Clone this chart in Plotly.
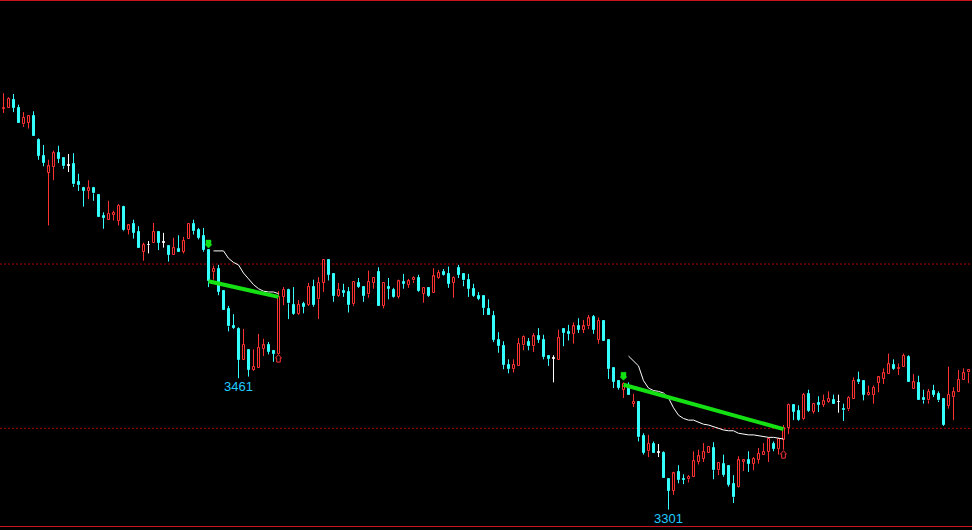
import plotly.graph_objects as go

# ---------------- data (index points, daily candles) ----------------
opens = [3789, 3790, 3800, 3790, 3770, 3772, 3780, 3751, 3731, 3711,
         3718, 3735, 3729, 3720, 3722, 3700, 3693, 3689, 3693, 3684,
         3658, 3654, 3660, 3653, 3669, 3642, 3649, 3639, 3615, 3623,
         3626, 3639, 3626, 3622, 3611, 3618, 3615, 3630, 3649, 3642,
         3634, 3617, 3590, 3594, 3567, 3545, 3525, 3521, 3483, 3495,
         3471, 3474, 3497, 3501, 3494, 3491, 3560, 3569, 3550, 3539,
         3551, 3550, 3572, 3557, 3577, 3605, 3588, 3561, 3567, 3566,
         3551, 3577, 3572, 3563, 3577, 3590, 3549, 3572, 3569, 3560,
         3578, 3575, 3580, 3583, 3564, 3571, 3565, 3583, 3590, 3588,
         3577, 3595, 3588, 3581, 3570, 3561, 3561, 3545, 3537, 3508,
         3500, 3477, 3472, 3476, 3501, 3505, 3500, 3512, 3508, 3488,
         3485, 3483, 3521, 3517, 3515, 3524, 3520, 3524, 3535, 3508,
         3531, 3508, 3473, 3458, 3447, 3451, 3430, 3432, 3391, 3372,
         3381, 3370, 3370, 3338, 3324, 3347, 3338, 3338, 3341, 3359,
         3363, 3370, 3376, 3349, 3357, 3354, 3332, 3329, 3359, 3361,
         3357, 3362, 3368, 3371, 3381, 3375, 3386, 3401, 3428, 3421,
         3411, 3442, 3420, 3431, 3429, 3432, 3435, 3432, 3424, 3423,
         3436, 3459, 3458, 3441, 3441, 3455, 3460, 3466, 3477, 3472,
         3475, 3487, 3448, 3455, 3437, 3434, 3445, 3442, 3436, 3427,
         3438, 3444, 3459, 3468]
highs = [3808, 3803, 3807, 3794, 3785, 3781, 3786, 3753, 3745, 3727,
         3738, 3744, 3729, 3734, 3735, 3710, 3694, 3702, 3694, 3685,
         3663, 3677, 3665, 3673, 3671, 3648, 3654, 3646, 3626, 3628,
         3650, 3640, 3638, 3623, 3632, 3635, 3633, 3649, 3654, 3644,
         3644, 3617, 3598, 3599, 3567, 3549, 3539, 3523, 3521, 3495,
         3496, 3515, 3509, 3505, 3495, 3567, 3572, 3570, 3572, 3556,
         3554, 3577, 3581, 3584, 3606, 3606, 3589, 3577, 3576, 3572,
         3578, 3583, 3572, 3592, 3583, 3596, 3578, 3583, 3571, 3581,
         3588, 3582, 3585, 3587, 3571, 3572, 3595, 3593, 3594, 3597,
         3585, 3599, 3588, 3588, 3576, 3566, 3561, 3557, 3543, 3517,
         3506, 3484, 3484, 3510, 3513, 3510, 3516, 3522, 3514, 3488,
         3489, 3520, 3521, 3526, 3529, 3534, 3532, 3538, 3538, 3535,
         3531, 3508, 3473, 3458, 3456, 3456, 3442, 3432, 3394, 3392,
         3384, 3381, 3372, 3338, 3347, 3355, 3344, 3343, 3372, 3374,
         3382, 3377, 3383, 3359, 3368, 3354, 3343, 3366, 3362, 3372,
         3365, 3376, 3382, 3389, 3384, 3388, 3404, 3430, 3429, 3428,
         3443, 3447, 3431, 3439, 3441, 3445, 3441, 3441, 3430, 3439,
         3462, 3469, 3458, 3452, 3452, 3463, 3473, 3491, 3484, 3479,
         3491, 3489, 3466, 3464, 3447, 3448, 3453, 3445, 3437, 3475,
         3450, 3471, 3473, 3472]
lows = [3784, 3790, 3785, 3772, 3767, 3765, 3756, 3727, 3719, 3647,
        3702, 3723, 3716, 3712, 3694, 3689, 3670, 3679, 3677, 3657,
        3643, 3654, 3653, 3647, 3640, 3636, 3631, 3619, 3604, 3613,
        3626, 3617, 3620, 3603, 3611, 3615, 3613, 3630, 3636, 3630,
        3615, 3572, 3581, 3562, 3544, 3518, 3521, 3461, 3483, 3463,
        3470, 3474, 3488, 3490, 3481, 3491, 3550, 3533, 3538, 3538,
        3540, 3549, 3548, 3533, 3566, 3580, 3554, 3560, 3560, 3541,
        3549, 3571, 3554, 3559, 3570, 3549, 3546, 3557, 3559, 3558,
        3570, 3571, 3577, 3566, 3553, 3560, 3565, 3582, 3586, 3571,
        3559, 3583, 3573, 3560, 3560, 3556, 3538, 3538, 3505, 3492,
        3472, 3467, 3468, 3476, 3495, 3495, 3493, 3504, 3484, 3476,
        3456, 3483, 3500, 3507, 3503, 3516, 3516, 3521, 3515, 3503,
        3506, 3460, 3449, 3447, 3437, 3440, 3426, 3384, 3368, 3365,
        3370, 3365, 3339, 3301, 3319, 3333, 3332, 3334, 3341, 3356,
        3359, 3370, 3338, 3343, 3341, 3329, 3309, 3328, 3348, 3347,
        3349, 3357, 3368, 3359, 3372, 3368, 3374, 3393, 3410, 3409,
        3410, 3420, 3418, 3420, 3426, 3431, 3430, 3419, 3409, 3421,
        3436, 3454, 3434, 3440, 3430, 3444, 3454, 3466, 3471, 3465,
        3475, 3457, 3448, 3434, 3430, 3430, 3438, 3432, 3403, 3424,
        3410, 3444, 3459, 3455]
closes = [3790, 3801, 3790, 3772, 3778, 3780, 3756, 3732, 3723, 3719,
          3735, 3728, 3719, 3720, 3697, 3696, 3689, 3692, 3686, 3657,
          3656, 3661, 3662, 3671, 3641, 3647, 3638, 3619, 3623, 3623,
          3639, 3626, 3626, 3611, 3620, 3615, 3628, 3649, 3640, 3632,
          3617, 3579, 3594, 3566, 3544, 3524, 3522, 3483, 3502, 3471,
          3475, 3498, 3501, 3493, 3491, 3560, 3569, 3552, 3539, 3550,
          3548, 3572, 3550, 3577, 3605, 3587, 3561, 3568, 3565, 3550,
          3578, 3572, 3561, 3578, 3583, 3549, 3577, 3570, 3560, 3579,
          3576, 3579, 3583, 3567, 3571, 3561, 3585, 3589, 3587, 3576,
          3583, 3587, 3580, 3570, 3561, 3558, 3547, 3538, 3508, 3500,
          3477, 3472, 3477, 3503, 3511, 3500, 3512, 3508, 3487, 3485,
          3485, 3510, 3516, 3515, 3524, 3520, 3524, 3534, 3520, 3531,
          3506, 3472, 3457, 3449, 3454, 3440, 3432, 3389, 3370, 3381,
          3370, 3370, 3339, 3324, 3345, 3337, 3337, 3341, 3360, 3366,
          3371, 3377, 3349, 3358, 3343, 3331, 3316, 3361, 3361, 3357,
          3363, 3369, 3371, 3387, 3375, 3387, 3401, 3429, 3420, 3410,
          3441, 3421, 3430, 3429, 3433, 3436, 3430, 3432, 3422, 3437,
          3458, 3456, 3441, 3443, 3449, 3462, 3467, 3478, 3472, 3474,
          3488, 3457, 3456, 3434, 3434, 3444, 3441, 3434, 3404, 3441,
          3444, 3459, 3467, 3471]

level_lines = [3600, 3400]
sell_signal_idx = [41, 124]
buy_signal_idx = [55, 156]
low_label_idx = [47, 133]

trend1_x = [41, 55]
trend1_y = [3579, 3560]
trend2_x = [124, 156]
trend2_y = [3453, 3399]

trail1_x = list(range(42, 56))
trail1_y = [3616, 3616, 3616, 3607, 3602, 3599, 3589, 3582, 3575, 3570,
            3567, 3566, 3566, 3564]
trail2_x = list(range(125, 157))
trail2_y = [3488, 3482, 3476, 3458, 3449, 3446, 3445, 3443, 3437, 3425,
            3416, 3412, 3410, 3410, 3407, 3405, 3404, 3402, 3400, 3398,
            3397, 3397, 3394, 3393, 3392, 3392, 3391, 3390, 3389, 3389,
            3388, 3387]

# ---------------- styling ----------------
RED = "#FF3232"
CYAN = "#33FFFF"
WHITE = "#FFFFFF"
GREEN = "#14E014"
LABEL = "#22CCFF"

n = len(opens)
idx = list(range(n))

body_base, body_h, fills, edges = [], [], [], []
wick = {RED: ([], []), CYAN: ([], []), WHITE: ([], [])}
for i in idx:
    o, h, l, c = opens[i], highs[i], lows[i], closes[i]
    if c > o:
        col, fill = RED, "#000000"
    elif c < o:
        col, fill = CYAN, CYAN
    else:
        col, fill = WHITE, WHITE
    lo_b, hi_b = min(o, c), max(o, c)
    hgt = max(hi_b - lo_b, 0.6)
    body_base.append(lo_b)
    body_h.append(hgt)
    fills.append(fill)
    edges.append(col)
    xs, ys = wick[col]
    if h > lo_b + hgt:
        xs += [i, i, None]
        ys += [h, lo_b + hgt, None]
    if l < lo_b:
        xs += [i, i, None]
        ys += [lo_b, l, None]

fig = go.Figure()
for col, (xs, ys) in wick.items():
    fig.add_trace(go.Scatter(x=xs, y=ys, mode="lines",
                             line=dict(color=col, width=1),
                             hoverinfo="skip"))
fig.add_trace(go.Bar(x=idx, y=body_h, base=body_base, width=0.4,
                     marker=dict(color=fills, line=dict(color=edges, width=1)),
                     hoverinfo="skip"))

for tx, ty in ((trail1_x, trail1_y), (trail2_x, trail2_y)):
    fig.add_trace(go.Scatter(x=tx, y=ty, mode="lines",
                             line=dict(color=WHITE, width=1), hoverinfo="skip"))
for tx, ty in ((trend1_x, trend1_y), (trend2_x, trend2_y)):
    fig.add_trace(go.Scatter(x=tx, y=ty, mode="lines",
                             line=dict(color=GREEN, width=4), hoverinfo="skip"))

shapes = []
for lv in level_lines:
    shapes.append(dict(type="line", xref="paper", x0=0, x1=1, yref="y",
                       y0=lv, y1=lv, line=dict(color="#B00000", width=1, dash="2px,2px"),
                       layer="below"))
shapes.append(dict(type="line", xref="paper", x0=0, x1=1, yref="paper",
                   y0=1, y1=1, line=dict(color="#C8141E", width=2)))
shapes.append(dict(type="line", xref="paper", x0=0, x1=1, yref="paper",
                   y0=3.5 / 530, y1=3.5 / 530, line=dict(color="#C8141E", width=1)))
for i in sell_signal_idx:
    shapes.append(dict(type="path", xref="x", yref="y", xsizemode="pixel",
                       ysizemode="pixel", xanchor=i, yanchor=highs[i],
                       path="M-2.5,10 L2.5,10 L2.5,5.5 L3.5,5.5 L0,2 L-3.5,5.5 L-2.5,5.5 Z",
                       fillcolor=GREEN, line=dict(color=GREEN, width=0.5)))
for i in buy_signal_idx:
    shapes.append(dict(type="path", xref="x", yref="y", xsizemode="pixel",
                       ysizemode="pixel", xanchor=i, yanchor=lows[i],
                       path="M0,-1 L3,-4.5 L1.8,-4.5 L1.8,-8.5 L-1.8,-8.5 L-1.8,-4.5 L-3,-4.5 Z",
                       fillcolor="rgba(0,0,0,0)", line=dict(color=RED, width=1)))

annotations = []
for i in low_label_idx:
    annotations.append(dict(x=i, y=lows[i], xref="x", yref="y", text=str(lows[i]),
                            showarrow=False, yanchor="top", xanchor="center",
                            yshift=1,
                            font=dict(family="Liberation Sans, Arial, sans-serif",
                                      size=13, color=LABEL)))

fig.update_layout(
    width=972, height=530,
    margin=dict(l=0, r=0, t=0, b=0, pad=0),
    paper_bgcolor="#000000", plot_bgcolor="#000000",
    showlegend=False,
    xaxis=dict(range=[-0.7, n - 0.3], visible=False, fixedrange=True),
    yaxis=dict(range=[3276.2, 3921.5], visible=False, fixedrange=True),
    shapes=shapes, annotations=annotations,
    bargap=0,
)

fig.write_html("out.html", config={"displayModeBar": False},
               post_script="document.body.style.margin='0';document.body.style.overflow='hidden';")
